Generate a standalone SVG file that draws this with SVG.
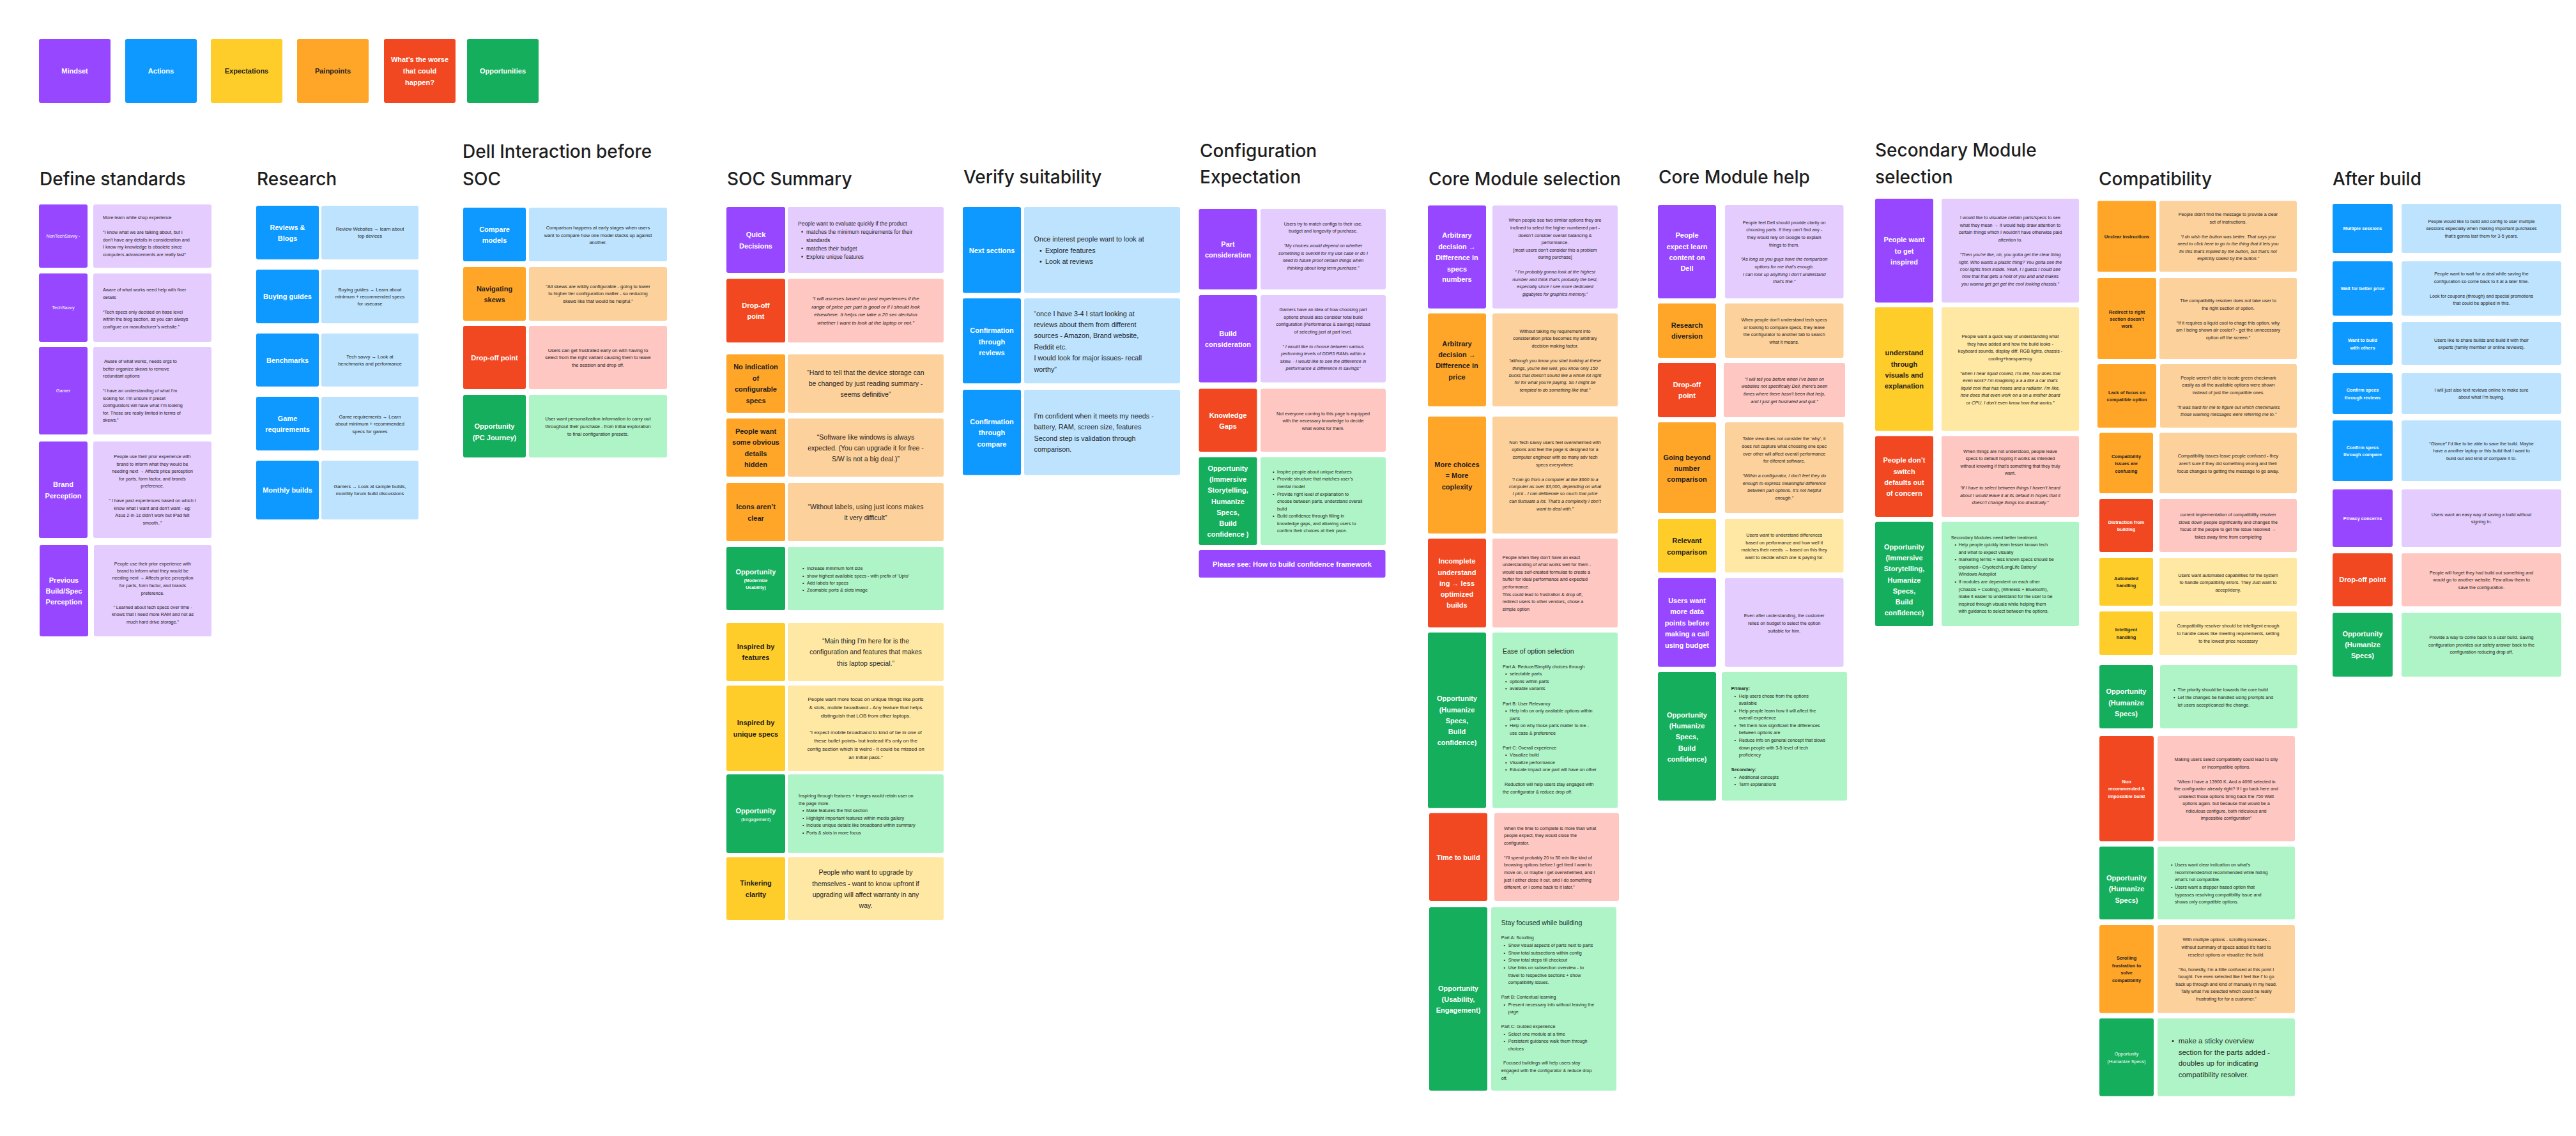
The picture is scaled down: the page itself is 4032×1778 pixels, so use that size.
<svg xmlns="http://www.w3.org/2000/svg" width="4032" height="1778" viewBox="0 0 4032 1778">
<style>
.h{font-family:Inter,"Liberation Sans",sans-serif;font-size:28px;font-weight:500;fill:#1e1e1e}
.L{font-family:"Liberation Sans",Arial,sans-serif;font-weight:700;font-size:11px;text-anchor:middle}
.Ls{font-size:7.3px}
.Rg{font-weight:400}
.W{fill:#fff}.D{fill:#1e1e1e}
.N{font-family:"Liberation Sans",Arial,sans-serif;font-size:7.2px;fill:#1e1e1e}
.N75{font-size:7.5px}.N8{font-size:8px}.N85{font-size:8.5px}.NB{font-size:10.5px}.NL{font-size:10.8px}.NX{font-size:11.5px}
.C{text-anchor:middle}.I{font-style:italic}.B{font-weight:700}
.pu{fill:#9747ff}.bl{fill:#0d99ff}.ye{fill:#ffcd29}.or{fill:#ffa629}.re{fill:#f24822}.gr{fill:#14ae5c}
.lpu{fill:#e4ccff}.lbl{fill:#bde3ff}.lye{fill:#ffe8a3}.lor{fill:#fcd19c}.lre{fill:#ffc7c2}.lgr{fill:#aff4c6}
</style>
<rect width="4032" height="1778" fill="#ffffff"/>

<g id="legend">
<rect class="pu" x="61" y="61" width="112" height="100" rx="3"/><text class="L W" x="117" y="115">Mindset</text>
<rect class="bl" x="196" y="61" width="112" height="100" rx="3"/><text class="L W" x="252" y="115">Actions</text>
<rect class="ye" x="330" y="61" width="112" height="100" rx="3"/><text class="L D" x="386" y="115">Expectations</text>
<rect class="or" x="465" y="61" width="112" height="100" rx="3"/><text class="L D" x="521" y="115">Painpoints</text>
<rect class="re" x="601" y="61" width="112" height="100" rx="3"/><text class="L W"><tspan x="657" y="97">What’s the worse</tspan><tspan x="657" y="115">that could</tspan><tspan x="657" y="133">happen?</tspan></text>
<rect class="gr" x="731" y="61" width="112" height="100" rx="3"/><text class="L W" x="787" y="115">Opportunities</text>
</g>

<g id="connectors"></g>

<g id="define-standards">
<text class="h" x="62" y="290">Define standards</text>
<g id="nontechsavvy">
<rect class="pu" x="61" y="320" width="76" height="99" rx="3"/><text class="L Ls Rg W" x="99" y="372">NonTechSavvy -</text>
<rect class="lpu" x="146" y="320" width="185" height="99" rx="3"/>
<text class="N"><tspan x="161" y="342.5">More learn while shop experience</tspan><tspan x="161" y="365.5">“I know what we are talking about, but I</tspan><tspan x="161" y="377.5">don’t have any details in consideration and</tspan><tspan x="161" y="388.5">I know my knowledge is obsolete since</tspan><tspan x="161" y="400.5">computers advancements are really fast”</tspan></text>
</g>
<g id="techsavvy">
<rect class="pu" x="61" y="428" width="76" height="107" rx="3"/><text class="L Ls Rg W" x="99" y="484">TechSavvy</text>
<rect class="lpu" x="146" y="428" width="185" height="107" rx="3"/>
<text class="N"><tspan x="161" y="455.5">Aware of what works need help with finer</tspan><tspan x="161" y="467.5">details</tspan><tspan x="161" y="490.5">“Tech specs only decided on base level</tspan><tspan x="161" y="501.5">within the blog section, as you can always</tspan><tspan x="161" y="513.5">configure on manufacturer’s website.”</tspan></text>
</g>
<g id="gamer">
<rect class="pu" x="61" y="543" width="76" height="137" rx="3"/><text class="L Ls Rg W" x="99" y="614">Gamer</text>
<rect class="lpu" x="146" y="543" width="185" height="137" rx="3"/>
<text class="N"><tspan x="163" y="567.5">Aware of what works, needs orgs to</tspan><tspan x="161" y="579.5">better organize skews to remove</tspan><tspan x="161" y="590.5">redundant options</tspan><tspan x="161" y="613.5">“I have an understanding of what I’m</tspan><tspan x="161" y="625.5">looking for. I’m unsure if preset</tspan><tspan x="161" y="636.5">configurators will have what I’m looking</tspan><tspan x="161" y="648.5">for. Those are really limited in terms of</tspan><tspan x="161" y="659.5">skews.”</tspan></text>
</g>
<g id="brand-perception">
<rect class="pu" x="61" y="691" width="76" height="151" rx="3"/><text class="L W"><tspan x="99" y="762">Brand</tspan><tspan x="99" y="779.5">Perception</tspan></text>
<rect class="lpu" x="146" y="691" width="185" height="151" rx="3"/>
<text class="N C"><tspan x="238.5" y="717">People use their prior experience with</tspan><tspan x="238.5" y="728.5">brand to inform what they would be</tspan><tspan x="238.5" y="740">needing next → Affects price perception</tspan><tspan x="238.5" y="751.5">for parts, form factor, and brands</tspan><tspan x="238.5" y="763">preference.</tspan><tspan x="238.5" y="786">“ I have past experiences based on which I</tspan><tspan x="238.5" y="797.5">know what I want and don’t want - eg:</tspan><tspan x="238.5" y="809">Asus 2-in-1s didn’t work but iPad felt</tspan><tspan x="238.5" y="820.5">smooth..”</tspan></text>
</g>
<g id="previous-build">
<rect class="pu" x="62" y="853" width="76" height="143" rx="3"/><text class="L W"><tspan x="100" y="912">Previous</tspan><tspan x="100" y="929">Build/Spec</tspan><tspan x="100" y="946">Perception</tspan></text>
<rect class="lpu" x="147" y="853" width="184" height="143" rx="3"/>
<text class="N C"><tspan x="239" y="884.5">People use their prior experience with</tspan><tspan x="239" y="895.5">brand to inform what they would be</tspan><tspan x="239" y="906.5">needing next → Affects price perception</tspan><tspan x="239" y="918.5">for parts, form factor, and brands</tspan><tspan x="239" y="930.5">preference.</tspan><tspan x="239" y="952.5">“ Learned about tech specs over time -</tspan><tspan x="239" y="963.5">knows that I need more RAM and not as</tspan><tspan x="239" y="975.5">much hard drive storage.”</tspan></text>
</g>
</g>

<g id="research">
<text class="h" x="402" y="290">Research</text>
<g id="reviews-blogs">
<rect class="bl" x="401" y="322" width="98" height="84" rx="3"/><text class="L W"><tspan x="450" y="359.7">Reviews &amp;</tspan><tspan x="450" y="377">Blogs</tspan></text>
<rect class="lbl" x="503" y="322" width="152" height="84" rx="3"/>
<text class="N N75 C"><tspan x="579" y="360.6">Review Websites → learn about</tspan><tspan x="579" y="372">top devices</tspan></text>
</g>
<g id="buying-guides">
<rect class="bl" x="401" y="422" width="98" height="84" rx="3"/><text class="L W" x="450" y="468">Buying guides</text>
<rect class="lbl" x="503" y="422" width="152" height="84" rx="3"/>
<text class="N N75 C"><tspan x="579" y="455.6">Buying guides → Learn about</tspan><tspan x="579" y="466.6">minimum + recommended specs</tspan><tspan x="579" y="478.3">for usecase</tspan></text>
</g>
<g id="benchmarks">
<rect class="bl" x="401" y="522" width="98" height="83" rx="3"/><text class="L W" x="450" y="567.5">Benchmarks</text>
<rect class="lbl" x="503" y="522" width="152" height="83" rx="3"/>
<text class="N N75 C"><tspan x="579" y="560.6">Tech savvy → Look at</tspan><tspan x="579" y="571.6">benchmarks and performance</tspan></text>
</g>
<g id="game-requirements">
<rect class="bl" x="401" y="621" width="98" height="84" rx="3"/><text class="L W"><tspan x="450" y="659">Game</tspan><tspan x="450" y="676">requirements</tspan></text>
<rect class="lbl" x="503" y="621" width="152" height="84" rx="3"/>
<text class="N N75 C"><tspan x="579" y="654.6">Game requirements → Learn</tspan><tspan x="579" y="666">about minimum + recommended</tspan><tspan x="579" y="677.6">specs for games</tspan></text>
</g>
<g id="monthly-builds">
<rect class="bl" x="401" y="721" width="98" height="92" rx="3"/><text class="L W" x="450" y="771">Monthly builds</text>
<rect class="lbl" x="503" y="721" width="152" height="92" rx="3"/>
<text class="N N75 C"><tspan x="579" y="763.6">Gamers → Look at sample builds,</tspan><tspan x="579" y="775">monthly forum build discussions</tspan></text>
</g>
</g>

<g id="dell-interaction">
<text class="h"><tspan x="724" y="247">Dell Interaction before</tspan><tspan x="724" y="290">SOC</tspan></text>
<g id="compare-models">
<rect class="bl" x="725" y="325" width="98" height="84" rx="3"/><text class="L W"><tspan x="774" y="363">Compare</tspan><tspan x="774" y="380">models</tspan></text>
<rect class="lbl" x="828" y="325" width="216" height="84" rx="3"/>
<text class="N N75 C"><tspan x="936" y="358.6">Comparison happens at early stages when users</tspan><tspan x="936" y="370.6">want to compare how one model stacks up against</tspan><tspan x="936" y="381.6">another.</tspan></text>
</g>
<g id="navigating-skews">
<rect class="or" x="725" y="418" width="98" height="84" rx="3"/><text class="L D"><tspan x="774" y="455.6">Navigating</tspan><tspan x="774" y="473">skews</tspan></text>
<rect class="lor" x="828" y="418" width="216" height="84" rx="3"/>
<text class="N N75 C"><tspan x="936" y="450.6">“All skews are wildly configurable - going to lower</tspan><tspan x="936" y="462.2">to higher tier configuration matter - so reducing</tspan><tspan x="936" y="473.6">skews like that would be helpful.”</tspan></text>
</g>
<g id="dell-drop-off">
<rect class="re" x="725" y="510" width="98" height="99" rx="3"/><text class="L W" x="774" y="564">Drop-off point</text>
<rect class="lre" x="828" y="510" width="216" height="99" rx="3"/>
<text class="N N75 C"><tspan x="936" y="550.6">Users can get frustrated early on with having to</tspan><tspan x="936" y="562">select from the right variant causing them to leave</tspan><tspan x="936" y="573.6">the session and drop off.</tspan></text>
</g>
<g id="dell-opportunity">
<rect class="gr" x="725" y="618" width="98" height="98" rx="3"/><text class="L W"><tspan x="774" y="671.4">Opportunity</tspan><tspan x="774" y="688.7">(PC Journey)</tspan></text>
<rect class="lgr" x="828" y="618" width="216" height="98" rx="3"/>
<text class="N N75 C"><tspan x="936" y="658">User want personalization information to carry out</tspan><tspan x="936" y="669.6">throughout their purchase - from initial exploration</tspan><tspan x="936" y="681.6">to final configuration presets.</tspan></text>
</g>
</g>

<g id="soc-summary">
<text class="h" x="1138" y="290">SOC Summary</text>
<g id="quick-decisions">
<rect class="pu" x="1137" y="324" width="92" height="103" rx="3"/><text class="L W"><tspan x="1183" y="371">Quick</tspan><tspan x="1183" y="388.6">Decisions</tspan></text>
<rect class="lpu" x="1233" y="324" width="244" height="103" rx="3"/>
<text class="N N85"><tspan x="1249" y="353">People want to evaluate quickly if the product</tspan><tspan x="1254" y="366">•</tspan><tspan x="1262">matches the minimum requirements for their</tspan><tspan x="1262" y="379">standards</tspan><tspan x="1254" y="392">•</tspan><tspan x="1262">matches their budget</tspan><tspan x="1254" y="404.6">•</tspan><tspan x="1262">Explore unique features</tspan></text>
</g>
<g id="soc-drop-off">
<rect class="re" x="1137" y="436.5" width="92" height="99.5" rx="3"/><text class="L W"><tspan x="1183" y="482">Drop-off</tspan><tspan x="1183" y="499">point</tspan></text>
<rect class="lre" x="1233" y="436.5" width="244" height="99.5" rx="3"/>
<text class="N N8 C I"><tspan x="1355" y="469.8">“I will asceses based on past experiences if the</tspan><tspan x="1355" y="482.8">range of price per part is good or if I should look</tspan><tspan x="1355" y="495.3">elsewhere. It helps me take a 20 sec decision</tspan><tspan x="1355" y="507.8">whether I want to look at the laptop or not.”</tspan></text>
</g>
<g id="no-indication">
<rect class="or" x="1137" y="554.5" width="92" height="91.5" rx="3"/><text class="L D"><tspan x="1183" y="578">No indication</tspan><tspan x="1183" y="595.7">of</tspan><tspan x="1183" y="613">configurable</tspan><tspan x="1183" y="630.6">specs</tspan></text>
<rect class="lor" x="1233" y="554.5" width="244" height="91.5" rx="3"/>
<text class="N NB C"><tspan x="1355" y="586.7">“Hard to tell that the device storage can</tspan><tspan x="1355" y="603.7">be changed by just reading summary -</tspan><tspan x="1355" y="620.7">seems definitive”</tspan></text>
</g>
<g id="obvious-details">
<rect class="or" x="1137" y="655" width="92" height="91" rx="3"/><text class="L D"><tspan x="1183" y="679">People want</tspan><tspan x="1183" y="696">some obvious</tspan><tspan x="1183" y="713.7">details</tspan><tspan x="1183" y="731">hidden</tspan></text>
<rect class="lor" x="1233" y="655" width="244" height="91" rx="3"/>
<text class="N NB C"><tspan x="1355" y="687.7">“Software like windows is always</tspan><tspan x="1355" y="704.7">expected. (You can upgrade it for free -</tspan><tspan x="1355" y="721.7">S/W is not a big deal.)”</tspan></text>
</g>
<g id="icons-unclear">
<rect class="or" x="1137" y="756" width="92" height="91" rx="3"/><text class="L D"><tspan x="1183" y="797">Icons aren’t</tspan><tspan x="1183" y="814.7">clear</tspan></text>
<rect class="lor" x="1233" y="756" width="244" height="91" rx="3"/>
<text class="N NB C"><tspan x="1355" y="796.7">“Without labels, using just icons makes</tspan><tspan x="1355" y="813.7">it very difficult”</tspan></text>
</g>
<g id="soc-opportunity-usability">
<rect class="gr" x="1137" y="856" width="92" height="99" rx="3"/><text class="L W"><tspan x="1183" y="899">Opportunity</tspan><tspan x="1183" y="910.5" font-size="7px">(Modernize</tspan><tspan x="1183" y="922" font-size="7px">Usability)</tspan></text>
<rect class="lgr" x="1233" y="856" width="244" height="99" rx="3"/>
<text class="N"><tspan x="1256" y="891.5">•</tspan><tspan x="1263">Increase minimum font size</tspan><tspan x="1256" y="903.5">•</tspan><tspan x="1263">show highest available specs - with prefix of ‘Upto’</tspan><tspan x="1256" y="914.5">•</tspan><tspan x="1263">Add labels for specs</tspan><tspan x="1256" y="926">•</tspan><tspan x="1263">Zoomable ports &amp; slots image</tspan></text>
</g>
<g id="inspired-features">
<rect class="ye" x="1137" y="975" width="92" height="91" rx="3"/><text class="L D"><tspan x="1183" y="1016">Inspired by</tspan><tspan x="1183" y="1033">features</tspan></text>
<rect class="lye" x="1233" y="975" width="244" height="91" rx="3"/>
<text class="N NB C"><tspan x="1355" y="1006.7">“Main thing I’m here for is the</tspan><tspan x="1355" y="1024.4">configuration and features that makes</tspan><tspan x="1355" y="1041.7">this laptop special.”</tspan></text>
</g>
<g id="inspired-unique">
<rect class="ye" x="1137" y="1073" width="92" height="134" rx="3"/><text class="L D"><tspan x="1183" y="1135">Inspired by</tspan><tspan x="1183" y="1152.6">unique specs</tspan></text>
<rect class="lye" x="1233" y="1073" width="244" height="134" rx="3"/>
<text class="N N8 C"><tspan x="1355" y="1097">People want more focus on unique things like ports</tspan><tspan x="1355" y="1110">&amp; slots, mobile broadband - Any feature that helps</tspan><tspan x="1355" y="1123">distinguish that LOB from other laptops.</tspan><tspan x="1355" y="1149">“I expect mobile broadband to kind of be in one of</tspan><tspan x="1355" y="1162">these bullet points- but instead it’s only on the</tspan><tspan x="1355" y="1175">config section which is weird - it could be missed on</tspan><tspan x="1355" y="1188">an initial pass.”</tspan></text>
</g>
<g id="soc-opportunity-engagement">
<rect class="gr" x="1137" y="1212" width="92" height="123" rx="3"/><text class="L W"><tspan x="1183" y="1273">Opportunity</tspan><tspan x="1183" y="1285" font-size="7.3px" font-weight="400">(Engagement)</tspan></text>
<rect class="lgr" x="1233" y="1212" width="244" height="123" rx="3"/>
<text class="N"><tspan x="1250" y="1247.5">Inspiring through features + images would retain user on</tspan><tspan x="1250" y="1259.5">the page more.</tspan><tspan x="1256" y="1270.5">•</tspan><tspan x="1262">Make features the first section</tspan><tspan x="1256" y="1282.5">•</tspan><tspan x="1262">Highlight important features within media gallery</tspan><tspan x="1256" y="1293.5">•</tspan><tspan x="1262">Include unique details like broadband within summary</tspan><tspan x="1256" y="1305.5">•</tspan><tspan x="1262">Ports &amp; slots in more focus</tspan></text>
</g>
<g id="tinkering-clarity">
<rect class="ye" x="1137" y="1341.6" width="92" height="98.4" rx="3"/><text class="L D"><tspan x="1183" y="1386">Tinkering</tspan><tspan x="1183" y="1403.7">clarity</tspan></text>
<rect class="lye" x="1233" y="1341.6" width="244" height="98.4" rx="3"/>
<text class="N NB C"><tspan x="1355" y="1369">People who want to upgrade by</tspan><tspan x="1355" y="1386.7">themselves - want to know upfront if</tspan><tspan x="1355" y="1403.7">upgrading will affect warranty in any</tspan><tspan x="1355" y="1421">way.</tspan></text>
</g>
</g>

<g id="verify-suitability">
<text class="h" x="1508" y="287">Verify suitability</text>
<g id="next-sections">
<rect class="bl" x="1507" y="324" width="91" height="134.5" rx="3"/><text class="L W" x="1552.5" y="396">Next sections</text>
<rect class="lbl" x="1603" y="324" width="244" height="134.5" rx="3"/>
<text class="N NL"><tspan x="1618.5" y="378.3">Once interest people want to look at</tspan><tspan x="1627" y="396">•</tspan><tspan x="1636">Explore features</tspan><tspan x="1627" y="413">•</tspan><tspan x="1636">Look at reviews</tspan></text>
</g>
<g id="confirmation-reviews">
<rect class="bl" x="1507" y="467" width="91" height="133" rx="3"/><text class="L W"><tspan x="1552.5" y="521">Confirmation</tspan><tspan x="1552.5" y="538.7">through</tspan><tspan x="1552.5" y="556">reviews</tspan></text>
<rect class="lbl" x="1603" y="467" width="244" height="133" rx="3"/>
<text class="N NL"><tspan x="1618.5" y="494.8">“once I have 3-4 I start looking at</tspan><tspan x="1618.5" y="512.3">reviews about them from different</tspan><tspan x="1618.5" y="529.3">sources - Amazon, Brand website,</tspan><tspan x="1618.5" y="546.8">Reddit etc.</tspan><tspan x="1618.5" y="563.8">I would look for major issues- recall</tspan><tspan x="1618.5" y="581.8">worthy”</tspan></text>
</g>
<g id="confirmation-compare">
<rect class="bl" x="1507" y="610" width="91" height="133.6" rx="3"/><text class="L W"><tspan x="1552.5" y="663.6">Confirmation</tspan><tspan x="1552.5" y="681">through</tspan><tspan x="1552.5" y="698.5">compare</tspan></text>
<rect class="lbl" x="1603" y="610" width="244" height="133.6" rx="3"/>
<text class="N NL"><tspan x="1618.5" y="654.8">I’m confident when it meets my needs -</tspan><tspan x="1618.5" y="671.8">battery, RAM, screen size, features</tspan><tspan x="1618.5" y="689.8">Second step is validation through</tspan><tspan x="1618.5" y="706.8">comparison.</tspan></text>
</g>
</g>

<g id="configuration-expectation">
<text class="h"><tspan x="1878" y="246">Configuration</tspan><tspan x="1878" y="287">Expectation</tspan></text>
<g id="part-consideration">
<rect class="pu" x="1876.5" y="327" width="91" height="126" rx="3"/><text class="L W"><tspan x="1922" y="386">Part</tspan><tspan x="1922" y="403">consideration</tspan></text>
<rect class="lpu" x="1973" y="327" width="196" height="126" rx="3"/>
<text class="N C"><tspan x="2071" y="352.6">Users try to match configs to their use,</tspan><tspan x="2071" y="364">budget and longevity of purchase.</tspan><tspan x="2071" y="387" font-style="italic">“My choices would depend on whether</tspan><tspan x="2071" y="398.5" font-style="italic">something is overkill for my use case or do I</tspan><tspan x="2071" y="410" font-style="italic">need to future proof certain things when</tspan><tspan x="2071" y="421.5" font-style="italic">thinking about long term purchase.”</tspan></text>
</g>
<g id="build-consideration">
<rect class="pu" x="1876.5" y="462" width="91" height="136.5" rx="3"/><text class="L W"><tspan x="1922" y="526">Build</tspan><tspan x="1922" y="543">consideration</tspan></text>
<rect class="lpu" x="1973" y="462" width="196" height="136.5" rx="3"/>
<text class="N C"><tspan x="2071" y="487">Gamers have an idea of how choosing part</tspan><tspan x="2071" y="498.5">options should also consider total build</tspan><tspan x="2071" y="510">configuration (Performance &amp; savings) instead</tspan><tspan x="2071" y="521.5">of selecting just at part level.</tspan><tspan x="2071" y="544.5" font-style="italic">“ I would like to choose between various</tspan><tspan x="2071" y="556" font-style="italic">performing levels of DDR5 RAMs within a</tspan><tspan x="2071" y="567.5" font-style="italic">skew. - I would like to see the difference in</tspan><tspan x="2071" y="579" font-style="italic">performance &amp; difference in savings”</tspan></text>
</g>
<g id="knowledge-gaps">
<rect class="re" x="1876.5" y="608.6" width="91" height="98.4" rx="3"/><text class="L W"><tspan x="1922" y="654">Knowledge</tspan><tspan x="1922" y="671">Gaps</tspan></text>
<rect class="lre" x="1973" y="608.6" width="196" height="98.4" rx="3"/>
<text class="N C"><tspan x="2071" y="649.5">Not everyone coming to this page is equipped</tspan><tspan x="2071" y="660.5">with the necessary knowledge to decide</tspan><tspan x="2071" y="672.5">what works for them.</tspan></text>
</g>
<g id="config-opportunity">
<rect class="gr" x="1876.5" y="715.6" width="91" height="137.4" rx="3"/><text class="L W"><tspan x="1922" y="736.6">Opportunity</tspan><tspan x="1922" y="753.6">(Immersive</tspan><tspan x="1922" y="771">Storytelling,</tspan><tspan x="1922" y="788.5">Humanize</tspan><tspan x="1922" y="806">Specs,</tspan><tspan x="1922" y="823">Build</tspan><tspan x="1922" y="840">confidence )</tspan></text>
<rect class="lgr" x="1973" y="715.6" width="196" height="137.4" rx="3"/>
<text class="N"><tspan x="1992" y="740.5">•</tspan><tspan x="1999">Inspire people about unique features</tspan><tspan x="1992" y="752">•</tspan><tspan x="1999">Provide structure that matches user’s</tspan><tspan x="1999" y="763.5">mental model</tspan><tspan x="1992" y="775.5">•</tspan><tspan x="1999">Provide right level of explanation to</tspan><tspan x="1999" y="787">choose between parts, understand overall</tspan><tspan x="1999" y="798.5">build</tspan><tspan x="1992" y="810">•</tspan><tspan x="1999">Build confidence through filling in</tspan><tspan x="1999" y="821.5">knowledge gaps, and allowing users to</tspan><tspan x="1999" y="832.5">confirm their choices at their pace.</tspan></text>
</g>
<g id="confidence-framework">
<rect class="pu" x="1876.5" y="861" width="292" height="43" rx="3"/><text class="L W" x="2022.5" y="886.5" font-size="10.5px">Please see: How to build confidence framework</text>
</g>
</g>

<g id="core-module-selection">
<text class="h" x="2236" y="290">Core Module selection</text>
<g id="arbitrary-specs">
<rect class="pu" x="2235" y="321.5" width="91" height="161.2" rx="3"/><text class="L W"><tspan x="2280.5" y="372">Arbitrary</tspan><tspan x="2280.5" y="389.7">decision →</tspan><tspan x="2280.5" y="407">Difference in</tspan><tspan x="2280.5" y="424.5">specs</tspan><tspan x="2280.5" y="441.4">numbers</tspan></text>
<rect class="lpu" x="2336" y="321.5" width="196" height="161.2" rx="3"/>
<text class="N C"><tspan x="2434" y="346.5">When people see two similar options they are</tspan><tspan x="2434" y="358.5">inclined to select the higher numbered part -</tspan><tspan x="2434" y="370.5">doesn’t consider overall balancing &amp;</tspan><tspan x="2434" y="381.5">performance.</tspan><tspan x="2434" y="393.5">[most users don’t consider this a problem</tspan><tspan x="2434" y="405">during purchase]</tspan><tspan x="2434" y="427.5" font-style="italic">“ I’m probably gonna look at the highest</tspan><tspan x="2434" y="439.5" font-style="italic">number and think that’s probably the best,</tspan><tspan x="2434" y="450.5" font-style="italic">especially since I see more dedicated</tspan><tspan x="2434" y="462.5" font-style="italic">gigabytes for graphics memory.”</tspan></text>
</g>
<g id="arbitrary-price">
<rect class="or" x="2235" y="490.6" width="91" height="145.4" rx="3"/><text class="L D"><tspan x="2280.5" y="542">Arbitrary</tspan><tspan x="2280.5" y="559">decision →</tspan><tspan x="2280.5" y="576">Difference in</tspan><tspan x="2280.5" y="593.6">price</tspan></text>
<rect class="lor" x="2336" y="490.6" width="196" height="145.4" rx="3"/>
<text class="N C"><tspan x="2434" y="520.5">Without taking my requirement into</tspan><tspan x="2434" y="532">consideration price becomes my arbitrary</tspan><tspan x="2434" y="543.5">decision making factor.</tspan><tspan x="2434" y="566.5" font-style="italic">“although you know you start looking at these</tspan><tspan x="2434" y="578.5" font-style="italic">things, you’re like well, you know only 150</tspan><tspan x="2434" y="589.5" font-style="italic">bucks that doesn’t sound like a whole lot right</tspan><tspan x="2434" y="601" font-style="italic">for for what you’re paying. So I might be</tspan><tspan x="2434" y="612.5" font-style="italic">tempted to do something like that.”</tspan></text>
</g>
<g id="more-choices">
<rect class="or" x="2235" y="652" width="91" height="183" rx="3"/><text class="L D"><tspan x="2280.5" y="731">More choices</tspan><tspan x="2280.5" y="748">= More</tspan><tspan x="2280.5" y="766">coplexity</tspan></text>
<rect class="lor" x="2336" y="652" width="196" height="183" rx="3"/>
<text class="N C"><tspan x="2434" y="694.5">Non Tech savvy users feel overwhelmed with</tspan><tspan x="2434" y="706">options and feel the page is designed for a</tspan><tspan x="2434" y="718">computer engineer with so many adv tech</tspan><tspan x="2434" y="729.5">specs everywhere.</tspan><tspan x="2434" y="752.5" font-style="italic">“I can go from a computer at like $660 to a</tspan><tspan x="2434" y="763.5" font-style="italic">computer as over $3,000, depending on what</tspan><tspan x="2434" y="775" font-style="italic">I pick - I can deliberate so much that price</tspan><tspan x="2434" y="786.5" font-style="italic">can fluctuate a lot. That’s a complexity I don’t</tspan><tspan x="2434" y="798.5" font-style="italic">want to deal with.”</tspan></text>
</g>
<g id="incomplete-understanding">
<rect class="re" x="2235" y="843" width="91" height="139" rx="3"/><text class="L W"><tspan x="2280.5" y="882">Incomplete</tspan><tspan x="2280.5" y="899.6">understand</tspan><tspan x="2280.5" y="916.5">ing → less</tspan><tspan x="2280.5" y="934">optimized</tspan><tspan x="2280.5" y="951">builds</tspan></text>
<rect class="lre" x="2336" y="843" width="196" height="139" rx="3"/>
<text class="N"><tspan x="2351.7" y="874.5">People when they don’t have an exact</tspan><tspan x="2351.7" y="886">understanding of what works well for them -</tspan><tspan x="2351.7" y="897.5">would use self-created formulas to create a</tspan><tspan x="2351.7" y="909">buffer for ideal performance and expected</tspan><tspan x="2351.7" y="921">performance.</tspan><tspan x="2351.7" y="932.5">This could lead to frustration &amp; drop off,</tspan><tspan x="2351.7" y="943.5">redirect users to other vendors, chose a</tspan><tspan x="2351.7" y="955.5">simple option</tspan></text>
</g>
<g id="core-opportunity-humanize">
<rect class="gr" x="2235" y="990" width="91" height="274.7" rx="3"/><text class="L W"><tspan x="2280.5" y="1097">Opportunity</tspan><tspan x="2280.5" y="1114.6">(Humanize</tspan><tspan x="2280.5" y="1132">Specs,</tspan><tspan x="2280.5" y="1149">Build</tspan><tspan x="2280.5" y="1166">confidence)</tspan></text>
<rect class="lgr" x="2336" y="990" width="196" height="274.7" rx="3"/>
<text class="N"><tspan x="2352" y="1022.7" font-size="10.5px">Ease of option selection</tspan><tspan x="2352" y="1045.5">Part A: Reduce/Simplify choices through</tspan><tspan x="2356" y="1057.2">•</tspan><tspan x="2363">selectable parts</tspan><tspan x="2356" y="1068.5">•</tspan><tspan x="2363">options within parts</tspan><tspan x="2356" y="1080">•</tspan><tspan x="2363">available variants</tspan><tspan x="2352" y="1103.5">Part B: User Relevancy</tspan><tspan x="2356" y="1114.5">•</tspan><tspan x="2363">Help info on only available options within</tspan><tspan x="2363" y="1126.5">parts</tspan><tspan x="2356" y="1137.5">•</tspan><tspan x="2363">Help on why those parts matter to me -</tspan><tspan x="2363" y="1149.5">use case &amp; preference</tspan><tspan x="2352" y="1172.5">Part C: Overall experience</tspan><tspan x="2356" y="1183.5">•</tspan><tspan x="2363">Visualize build</tspan><tspan x="2356" y="1195.5">•</tspan><tspan x="2363">Visualize performance</tspan><tspan x="2356" y="1207">•</tspan><tspan x="2363">Educate impact one part will have on other</tspan><tspan x="2355" y="1230">Reduction will help users stay engaged with</tspan><tspan x="2352" y="1241.5">the configurator &amp; reduce drop off.</tspan></text>
</g>
<g id="time-to-build">
<rect class="re" x="2237" y="1272.6" width="91" height="137.4" rx="3"/><text class="L W" x="2282.5" y="1346">Time to build</text>
<rect class="lre" x="2339" y="1272.6" width="195" height="137.4" rx="3"/>
<text class="N"><tspan x="2354" y="1298.5">When the time to complete is more than what</tspan><tspan x="2354" y="1310">people expect, they would close the</tspan><tspan x="2354" y="1321.5">configurator.</tspan><tspan x="2354" y="1344.5">“I’ll spend probably 20 to 30 min like kind of</tspan><tspan x="2354" y="1356">browsing options before I get tired I want to</tspan><tspan x="2354" y="1367.5">move on, or maybe I get overwhelmed, and I</tspan><tspan x="2354" y="1379.5">just I either close it out, and I do something</tspan><tspan x="2354" y="1391">different, or I come back to it later.”</tspan></text>
</g>
<g id="core-opportunity-usability">
<rect class="gr" x="2237" y="1420" width="91" height="287" rx="3"/><text class="L W"><tspan x="2282.5" y="1550.8">Opportunity</tspan><tspan x="2282.5" y="1568">(Usability,</tspan><tspan x="2282.5" y="1585">Engagement)</tspan></text>
<rect class="lgr" x="2334" y="1420" width="196" height="287" rx="3"/>
<text class="N"><tspan x="2349.7" y="1447.7" font-size="10.5px">Stay focused while building</tspan><tspan x="2349.7" y="1470">Part A: Scrolling</tspan><tspan x="2353.5" y="1482.2">•</tspan><tspan x="2360.7">Show visual aspects of parts next to parts</tspan><tspan x="2353.5" y="1493.5">•</tspan><tspan x="2360.7">Show total subsections within config</tspan><tspan x="2353.5" y="1505">•</tspan><tspan x="2360.7">Show total steps till checkout</tspan><tspan x="2353.5" y="1516.5">•</tspan><tspan x="2360.7">Use links on subsection overview - to</tspan><tspan x="2360.7" y="1528.5">travel to respective sections + show</tspan><tspan x="2360.7" y="1540">compatibility issues.</tspan><tspan x="2349.7" y="1562.5">Part B: Contextual learning</tspan><tspan x="2353.5" y="1574.5">•</tspan><tspan x="2360.7">Present necessary info without leaving the</tspan><tspan x="2360.7" y="1586">page</tspan><tspan x="2349.7" y="1608.5">Part C: Guided experience</tspan><tspan x="2353.5" y="1620.5">•</tspan><tspan x="2360.7">Select one module at a time</tspan><tspan x="2353.5" y="1631.5">•</tspan><tspan x="2360.7">Persistent guidance walk them through</tspan><tspan x="2360.7" y="1643.5">choices</tspan><tspan x="2353" y="1666">Focused buildings will help users stay</tspan><tspan x="2349.7" y="1677.5">engaged with the configurator &amp; reduce drop</tspan><tspan x="2349.7" y="1689.5">off.</tspan></text>
</g>
</g>

<g id="core-module-help">
<text class="h" x="2596" y="287">Core Module help</text>
<g id="expect-learn">
<rect class="pu" x="2595" y="321" width="91" height="146" rx="3"/><text class="L W"><tspan x="2640.5" y="372.3">People</tspan><tspan x="2640.5" y="389.7">expect learn</tspan><tspan x="2640.5" y="406.9">content on</tspan><tspan x="2640.5" y="424.3">Dell</tspan></text>
<rect class="lpu" x="2700" y="321" width="185.5" height="146" rx="3"/>
<text class="N C"><tspan x="2792.7" y="350.5">People feel Dell should provide clarity on</tspan><tspan x="2792.7" y="362">choosing parts. If they can’t find any -</tspan><tspan x="2792.7" y="373.8">they would rely on Google to explain</tspan><tspan x="2792.7" y="385.5">things to them.</tspan><tspan x="2792.7" y="408.3" font-style="italic">“As long as you guys have the comparison</tspan><tspan x="2792.7" y="420" font-style="italic">options for me that’s enough.</tspan><tspan x="2792.7" y="431.5" font-style="italic">I can look up anything I don’t understand</tspan><tspan x="2792.7" y="443" font-style="italic">that’s fine.”</tspan></text>
</g>
<g id="research-diversion">
<rect class="or" x="2595" y="475" width="91" height="85" rx="3"/><text class="L D"><tspan x="2640.5" y="513">Research</tspan><tspan x="2640.5" y="530.4">diversion</tspan></text>
<rect class="lor" x="2700" y="475" width="185.5" height="85" rx="3"/>
<text class="N C"><tspan x="2792.7" y="503">When people don’t understand tech specs</tspan><tspan x="2792.7" y="514.5">or looking to compare specs, they leave</tspan><tspan x="2792.7" y="526">the configurator to another tab to search</tspan><tspan x="2792.7" y="537.8">what it means.</tspan></text>
</g>
<g id="help-drop-off">
<rect class="re" x="2595" y="568" width="91" height="85" rx="3"/><text class="L W"><tspan x="2640.5" y="605.7">Drop-off</tspan><tspan x="2640.5" y="623.2">point</tspan></text>
<rect class="lre" x="2698" y="568" width="190" height="85" rx="3"/>
<text class="N C I"><tspan x="2793" y="595.5">“I will tell you before when I’ve been on</tspan><tspan x="2793" y="607.2">websites not specifically Dell, there’s been</tspan><tspan x="2793" y="618.9">times where there hasn’t been that help,</tspan><tspan x="2793" y="630.5">and I just get frustrated and quit.”</tspan></text>
</g>
<g id="beyond-number">
<rect class="or" x="2595" y="661" width="91" height="142" rx="3"/><text class="L D"><tspan x="2640.5" y="719.5">Going beyond</tspan><tspan x="2640.5" y="736.9">number</tspan><tspan x="2640.5" y="754.4">comparison</tspan></text>
<rect class="lor" x="2700" y="661" width="185.5" height="142" rx="3"/>
<text class="N C"><tspan x="2792.7" y="689.1">Table view does not consider the ‘why’, it</tspan><tspan x="2792.7" y="700.5">does not capture what choosing one spec</tspan><tspan x="2792.7" y="712.5">over other will affect overall performance</tspan><tspan x="2792.7" y="723.5">for diferent software.</tspan><tspan x="2792.7" y="746.5" font-style="italic">“Within a configurator, I don’t feel they do</tspan><tspan x="2792.7" y="758.5" font-style="italic">enough to express meaningful difference</tspan><tspan x="2792.7" y="770.1" font-style="italic">between part options. It’s not helpful</tspan><tspan x="2792.7" y="781.5" font-style="italic">enough.”</tspan></text>
</g>
<g id="relevant-comparison">
<rect class="ye" x="2595" y="812" width="91" height="84" rx="3"/><text class="L D"><tspan x="2640.5" y="849.9">Relevant</tspan><tspan x="2640.5" y="867.6">comparison</tspan></text>
<rect class="lye" x="2700" y="812" width="185.5" height="84" rx="3"/>
<text class="N C"><tspan x="2792.7" y="839.5">Users want to understand differences</tspan><tspan x="2792.7" y="851.5">based on performance and how well it</tspan><tspan x="2792.7" y="862.5">matches their needs → based on this they</tspan><tspan x="2792.7" y="874.5">want to decide which one is paying for.</tspan></text>
</g>
<g id="more-data-points">
<rect class="pu" x="2595" y="904.7" width="91" height="139" rx="3"/><text class="L W"><tspan x="2640.5" y="943.9">Users want</tspan><tspan x="2640.5" y="960.9">more data</tspan><tspan x="2640.5" y="978.9">points before</tspan><tspan x="2640.5" y="995.9">making a call</tspan><tspan x="2640.5" y="1013.6">using budget</tspan></text>
<rect class="lpu" x="2700" y="904.7" width="185.5" height="139" rx="3"/>
<text class="N C"><tspan x="2792.7" y="965.5">Even after understanding, the customer</tspan><tspan x="2792.7" y="977.5">relies on budget to select the option</tspan><tspan x="2792.7" y="989.5">suitable for him.</tspan></text>
</g>
<g id="help-opportunity">
<rect class="gr" x="2595" y="1052" width="91" height="201" rx="3"/><text class="L W"><tspan x="2640.5" y="1122.6">Opportunity</tspan><tspan x="2640.5" y="1139.9">(Humanize</tspan><tspan x="2640.5" y="1156.9">Specs,</tspan><tspan x="2640.5" y="1174.6">Build</tspan><tspan x="2640.5" y="1191.9">confidence)</tspan></text>
<rect class="lgr" x="2695" y="1052" width="196" height="201" rx="3"/>
<text class="N"><tspan x="2709.7" y="1080.2" font-weight="700">Primary:</tspan><tspan x="2714.5" y="1091.5">•</tspan><tspan x="2721.7">Help users chose from the options</tspan><tspan x="2721.7" y="1103.2">available</tspan><tspan x="2714.5" y="1114.5">•</tspan><tspan x="2721.7">Help people learn how it will affect the</tspan><tspan x="2721.7" y="1126.2">overall experience</tspan><tspan x="2714.5" y="1137.5">•</tspan><tspan x="2721.7">Tell them how significant the differences</tspan><tspan x="2721.7" y="1149.2">between options are</tspan><tspan x="2714.5" y="1160.5">•</tspan><tspan x="2721.7">Reduce info on general concept that slows</tspan><tspan x="2721.7" y="1172.5">down people with 3-5 level of tech</tspan><tspan x="2721.7" y="1183.5">proficiency</tspan><tspan x="2709.7" y="1206.5" font-weight="700">Secondary:</tspan><tspan x="2714.5" y="1218.5">•</tspan><tspan x="2721.7">Additional concepts</tspan><tspan x="2714.5" y="1229.5">•</tspan><tspan x="2721.7">Term explanations</tspan></text>
</g>
</g>

<g id="secondary-module-selection">
<text class="h"><tspan x="2935" y="245">Secondary Module</tspan><tspan x="2935" y="287">selection</tspan></text>
<g id="get-inspired">
<rect class="pu" x="2935" y="311" width="91" height="162.5" rx="3"/><text class="L W"><tspan x="2980.5" y="378.9">People want</tspan><tspan x="2980.5" y="396.9">to get</tspan><tspan x="2980.5" y="413.9">inspired</tspan></text>
<rect class="lpu" x="3039" y="311" width="215" height="162.5" rx="3"/>
<text class="N C"><tspan x="3146.5" y="342.5">I would like to visualize certain parts/specs to see</tspan><tspan x="3146.5" y="354.5">what they mean → It would help draw attention to</tspan><tspan x="3146.5" y="366.1">certain things which I wouldn’t have otherwise paid</tspan><tspan x="3146.5" y="377.5">attention to.</tspan><tspan x="3146.5" y="400.5" font-style="italic">“Then you’re like, oh, you gotta get the clear thing</tspan><tspan x="3146.5" y="412.5" font-style="italic">right. Who wants a plastic thing? You gotta see the</tspan><tspan x="3146.5" y="423.5" font-style="italic">cool lights from inside. Yeah, I I guess I could see</tspan><tspan x="3146.5" y="435.2" font-style="italic">how that that gets a hold of you and and makes</tspan><tspan x="3146.5" y="446.9" font-style="italic">you wanna get get get the cool looking chassis.”</tspan></text>
</g>
<g id="understand-visuals">
<rect class="ye" x="2935" y="481" width="91" height="193.5" rx="3"/><text class="L D"><tspan x="2980.5" y="555.9">understand</tspan><tspan x="2980.5" y="573.9">through</tspan><tspan x="2980.5" y="590.9">visuals and</tspan><tspan x="2980.5" y="608.3">explanation</tspan></text>
<rect class="lye" x="3039" y="481" width="215" height="193.5" rx="3"/>
<text class="N C"><tspan x="3146.5" y="529">People want a quick way of understanding what</tspan><tspan x="3146.5" y="540.5">they have added and how the build looks -</tspan><tspan x="3146.5" y="552">keyboard sounds, display diff, RGB lights, chassis -</tspan><tspan x="3146.5" y="563.5">cooling+transparency</tspan><tspan x="3146.5" y="586.5" font-style="italic">“when I hear liquid cooled, I’m like, how does that</tspan><tspan x="3146.5" y="598.1" font-style="italic">even work? I’m imagining a a a like a car that’s</tspan><tspan x="3146.5" y="609.5" font-style="italic">liquid cool that has hoses and a radiator. I’m like,</tspan><tspan x="3146.5" y="621" font-style="italic">how does that even work on a on a mother board</tspan><tspan x="3146.5" y="632.5" font-style="italic">or CPU. I don’t even know how that works.”</tspan></text>
</g>
<g id="defaults-concern">
<rect class="re" x="2935" y="682.5" width="91" height="126.5" rx="3"/><text class="L W"><tspan x="2980.5" y="723.9">People don’t</tspan><tspan x="2980.5" y="741.9">switch</tspan><tspan x="2980.5" y="758.9">defaults out</tspan><tspan x="2980.5" y="775.9">of concern</tspan></text>
<rect class="lre" x="3039" y="682.5" width="215" height="126.5" rx="3"/>
<text class="N C"><tspan x="3146.5" y="708.5">When things are not understood, people leave</tspan><tspan x="3146.5" y="720">specs to default hoping it works as intended</tspan><tspan x="3146.5" y="731.5">without knowing if that’s something that they truly</tspan><tspan x="3146.5" y="743.2">want.</tspan><tspan x="3146.5" y="766.1" font-style="italic">“If I have to select between things I haven’t heard</tspan><tspan x="3146.5" y="777.5" font-style="italic">about I would leave it at its default in hopes that it</tspan><tspan x="3146.5" y="789" font-style="italic">doesn’t change things too drastically.”</tspan></text>
</g>
<g id="secondary-opportunity">
<rect class="gr" x="2935" y="816.7" width="91" height="163.3" rx="3"/><text class="L W"><tspan x="2980.5" y="859.9">Opportunity</tspan><tspan x="2980.5" y="876.9">(Immersive</tspan><tspan x="2980.5" y="893.9">Storytelling,</tspan><tspan x="2980.5" y="911.6">Humanize</tspan><tspan x="2980.5" y="928.9">Specs,</tspan><tspan x="2980.5" y="945.9">Build</tspan><tspan x="2980.5" y="962.9">confidence)</tspan></text>
<rect class="lgr" x="3039" y="816.7" width="215" height="163.3" rx="3"/>
<text class="N"><tspan x="3053.7" y="843.5">Secondary Modules need better treatment.</tspan><tspan x="3059.6" y="855.2">•</tspan><tspan x="3065.5">Help people quickly learn lesser known tech</tspan><tspan x="3065.5" y="866.5">and what to expect visually</tspan><tspan x="3059.6" y="878.2">•</tspan><tspan x="3065.5">marketing terms + less known specs should be</tspan><tspan x="3065.5" y="889.5">explained - Cryotech/LongLife Battery/</tspan><tspan x="3065.5" y="901.2">Windows Autopilot</tspan><tspan x="3059.6" y="912.5">•</tspan><tspan x="3065.5">If modules are dependent on each other</tspan><tspan x="3065.5" y="924.5">(Chassis + Cooling), (Wireless + Bluetooth),</tspan><tspan x="3065.5" y="935.5">make it easier to understand for the user to be</tspan><tspan x="3065.5" y="947.5">inspired through visuals while helping them</tspan><tspan x="3065.5" y="958.5">with guidance to select between the options.</tspan></text>
</g>
</g>

<g id="compatibility">
<text class="h" x="3285" y="289.5">Compatibility</text>
<g id="unclear-instructions">
<rect class="or" x="3283" y="314.6" width="92" height="111" rx="3"/><text class="L Ls D" x="3329" y="372.6">Unclear instructions</text>
<rect class="lor" x="3380" y="314.6" width="215" height="111" rx="3"/>
<text class="N C"><tspan x="3487.5" y="337.5">People didn’t find the message to provide a clear</tspan><tspan x="3487.5" y="349.5">set of instructions.</tspan><tspan x="3487.5" y="372.5" font-style="italic">“I do wish the button was better. That says you</tspan><tspan x="3487.5" y="384.1" font-style="italic">need to click here to go to the thing that it lets you</tspan><tspan x="3487.5" y="395.5" font-style="italic">fix this that’s implied by the button, but that’s not</tspan><tspan x="3487.5" y="407.2" font-style="italic">explicitly stated by the button.”</tspan></text>
</g>
<g id="redirect-section">
<rect class="or" x="3283" y="435" width="92" height="127" rx="3"/><text class="L Ls D"><tspan x="3329" y="490.6">Redirect to right</tspan><tspan x="3329" y="501.6">section doesn’t</tspan><tspan x="3329" y="512.6">work</tspan></text>
<rect class="lor" x="3380" y="435" width="215" height="127" rx="3"/>
<text class="N C"><tspan x="3487.5" y="472.5">The compatibility resolver does not take user to</tspan><tspan x="3487.5" y="484.5">the right section of option.</tspan><tspan x="3487.5" y="507.5">“If it requires a liquid cool to chage this option, why</tspan><tspan x="3487.5" y="519">am I being shown air cooler? - get the unnecessary</tspan><tspan x="3487.5" y="530.5">option off the screen.”</tspan></text>
</g>
<g id="lack-focus">
<rect class="or" x="3283" y="570" width="92" height="99.5" rx="3"/><text class="L Ls D"><tspan x="3329" y="616.6">Lack of focus on</tspan><tspan x="3329" y="628.2">compatible option</tspan></text>
<rect class="lor" x="3381" y="570" width="214" height="99.5" rx="3"/>
<text class="N C"><tspan x="3488" y="593.5">People weren’t able to locate green checkmark</tspan><tspan x="3488" y="604.9">easily as all the available options were shown</tspan><tspan x="3488" y="616.5">instead of just the compatible ones.</tspan><tspan x="3488" y="639.5" font-style="italic">“It was hard for me to figure out which checkmarks</tspan><tspan x="3488" y="651.2" font-style="italic">those warning messages were referring me to.”</tspan></text>
</g>
<g id="issues-confusing">
<rect class="or" x="3286" y="677.5" width="84" height="94.5" rx="3"/><text class="L Ls D"><tspan x="3328" y="716.6">Compatibility</tspan><tspan x="3328" y="727.6">issues are</tspan><tspan x="3328" y="739.6">confusing</tspan></text>
<rect class="lor" x="3380" y="677.5" width="215" height="94.5" rx="3"/>
<text class="N C"><tspan x="3487.5" y="715.5">Compatibility issues leave people confused - they</tspan><tspan x="3487.5" y="727.5">aren’t sure if they did something wrong and their</tspan><tspan x="3487.5" y="739.5">focus changes to getting the message to go away.</tspan></text>
</g>
<g id="distraction-building">
<rect class="re" x="3286" y="781" width="84" height="83" rx="3"/><text class="L Ls W"><tspan x="3328" y="819.6">Distraction from</tspan><tspan x="3328" y="831.1">building</tspan></text>
<rect class="lre" x="3380" y="781" width="215" height="83" rx="3"/>
<text class="N C"><tspan x="3487.5" y="807.5">current implementation of compatibility resolver</tspan><tspan x="3487.5" y="819.5">slows down people significantly and changes the</tspan><tspan x="3487.5" y="831">focus of the people to get the issue resolved →</tspan><tspan x="3487.5" y="842.5">takes away time from completing</tspan></text>
</g>
<g id="automated-handling">
<rect class="ye" x="3286" y="873" width="84" height="75" rx="3"/><text class="L Ls D"><tspan x="3328" y="908">Automated</tspan><tspan x="3328" y="919.3">handling</tspan></text>
<rect class="lye" x="3380" y="873" width="215" height="75" rx="3"/>
<text class="N C"><tspan x="3487.5" y="902.5">Users want automated capabilities for the system</tspan><tspan x="3487.5" y="913.5">to handle compatibility errors. They Just want to</tspan><tspan x="3487.5" y="925.5">accept/deny.</tspan></text>
</g>
<g id="intelligent-handling">
<rect class="ye" x="3286" y="957" width="84" height="68" rx="3"/><text class="L Ls D"><tspan x="3328" y="988.1">Intelligent</tspan><tspan x="3328" y="999.6">handling</tspan></text>
<rect class="lye" x="3380" y="957" width="215" height="68" rx="3"/>
<text class="N C"><tspan x="3487.5" y="982.2">Compatibility resolver should be intelligent enough</tspan><tspan x="3487.5" y="993.5">to handle cases like meeting requirements, setting</tspan><tspan x="3487.5" y="1005.5">to the lowest price necessary</tspan></text>
</g>
<g id="compat-opportunity-1">
<rect class="gr" x="3286" y="1041" width="84" height="99" rx="3"/><text class="L W"><tspan x="3328" y="1086.4">Opportunity</tspan><tspan x="3328" y="1103.9">(Humanize</tspan><tspan x="3328" y="1120.9">Specs)</tspan></text>
<rect class="lgr" x="3381" y="1041" width="215" height="99" rx="3"/>
<text class="N"><tspan x="3402" y="1082">•</tspan><tspan x="3408.5">The priority should be towards the core build</tspan><tspan x="3402" y="1093.5">•</tspan><tspan x="3408.5">Let the changes be handled using prompts and</tspan><tspan x="3408.5" y="1105.5">let users accept/cancel the change.</tspan></text>
</g>
<g id="non-recommended">
<rect class="re" x="3286" y="1152" width="85" height="164.6" rx="3"/><text class="L Ls W"><tspan x="3328.5" y="1225.6">Non</tspan><tspan x="3328.5" y="1237.3">recommended &amp;</tspan><tspan x="3328.5" y="1248.6">impossible build</tspan></text>
<rect class="lre" x="3377" y="1152" width="215" height="164.6" rx="3"/>
<text class="N C"><tspan x="3484.5" y="1191.1">Making users select compatibility could lead to silly</tspan><tspan x="3484.5" y="1202.5">or incompatible options.</tspan><tspan x="3484.5" y="1225.5">“When I have a 13900 K. And a 4090 selected in</tspan><tspan x="3484.5" y="1237.2">the configurator already right? If I go back here and</tspan><tspan x="3484.5" y="1248.5">unselect those options bring back the 750 Watt</tspan><tspan x="3484.5" y="1260">options again. but because that would be a</tspan><tspan x="3484.5" y="1271.5">ridiculous configure, both ridiculous and</tspan><tspan x="3484.5" y="1283.2">impossible configuration”</tspan></text>
</g>
<g id="compat-opportunity-2">
<rect class="gr" x="3286" y="1325" width="85" height="114" rx="3"/><text class="L W"><tspan x="3328.5" y="1377.9">Opportunity</tspan><tspan x="3328.5" y="1394.9">(Humanize</tspan><tspan x="3328.5" y="1412.6">Specs)</tspan></text>
<rect class="lgr" x="3377" y="1325" width="215" height="114" rx="3"/>
<text class="N"><tspan x="3398" y="1355.9">•</tspan><tspan x="3404">Users want clear indication on what’s</tspan><tspan x="3404" y="1367.5">recommended/not recommended while hiding</tspan><tspan x="3404" y="1379.2">what’s not compatible.</tspan><tspan x="3398" y="1390.5">•</tspan><tspan x="3404">Users want a stepper based option that</tspan><tspan x="3404" y="1402.5">bypasses resolving compatibility issue and</tspan><tspan x="3404" y="1414.1">shows only compatible options.</tspan></text>
</g>
<g id="scrolling-frustration">
<rect class="or" x="3286" y="1448" width="85" height="137.6" rx="3"/><text class="L Ls D"><tspan x="3328.5" y="1501.6">Scrolling</tspan><tspan x="3328.5" y="1513.6">frustration to</tspan><tspan x="3328.5" y="1525.2">solve</tspan><tspan x="3328.5" y="1536.6">compatibility</tspan></text>
<rect class="lor" x="3377" y="1448" width="215" height="137.6" rx="3"/>
<text class="N C"><tspan x="3484.5" y="1473.2">With multiple options - scrolling increases -</tspan><tspan x="3484.5" y="1484.5">without summary of specs added it’s hard to</tspan><tspan x="3484.5" y="1496.5">reselect options or visualize the build.</tspan><tspan x="3484.5" y="1519.5">“So, honestly, i’m a little confused at this point I</tspan><tspan x="3484.5" y="1530.9">bought. I’ve even selected like I feel like I’ to go</tspan><tspan x="3484.5" y="1542.5">back up through and kind of manually in my head.</tspan><tspan x="3484.5" y="1554.2">Tally what I’ve selected which could be really</tspan><tspan x="3484.5" y="1565.5">frustrating for for a customer.”</tspan></text>
</g>
<g id="compat-opportunity-3">
<rect class="gr" x="3286" y="1594" width="85" height="121.5" rx="3"/><text class="L Ls Rg W"><tspan x="3328.5" y="1652.2">Opportunity</tspan><tspan x="3328.5" y="1663.6">(Humanize Specs)</tspan></text>
<rect class="lgr" x="3377" y="1594" width="215" height="121.5" rx="3"/>
<text class="N NX"><tspan x="3399" y="1633">•</tspan><tspan x="3409.7">make a sticky overview</tspan><tspan x="3409.7" y="1650.7">section for the parts added -</tspan><tspan x="3409.7" y="1668">doubles up for indicating</tspan><tspan x="3409.7" y="1685.6">compatibility resolver.</tspan></text>
</g>
</g>

<g id="after-build">
<text class="h" x="3651" y="290">After build</text>
<g id="multiple-sessions">
<rect class="bl" x="3651" y="319" width="94" height="77" rx="3"/><text class="L Ls W" x="3698" y="360">Multiple sessions</text>
<rect class="lbl" x="3759" y="319" width="250" height="77" rx="3"/>
<text class="N C"><tspan x="3884" y="348.5">People would like to build and config to user multiple</tspan><tspan x="3884" y="360">sessions especially when making important purchases</tspan><tspan x="3884" y="371.5">that’s gonna last them for 3-5 years.</tspan></text>
</g>
<g id="wait-better-price">
<rect class="bl" x="3651" y="409" width="94" height="85" rx="3"/><text class="L Ls W" x="3698" y="454">Wait for better price</text>
<rect class="lbl" x="3759" y="409" width="250" height="85" rx="3"/>
<text class="N C"><tspan x="3884" y="431">People want to wait for a deal while saving the</tspan><tspan x="3884" y="442.5">configuration so come back to it at a later time.</tspan><tspan x="3884" y="465.5">Look for coupons (through) and special promotions</tspan><tspan x="3884" y="477">that could be applied in this.</tspan></text>
</g>
<g id="build-with-others">
<rect class="bl" x="3651" y="504" width="94" height="67" rx="3"/><text class="L Ls W"><tspan x="3698" y="535">Want to build</tspan><tspan x="3698" y="546.5">with others</tspan></text>
<rect class="lbl" x="3759" y="504" width="250" height="67" rx="3"/>
<text class="N C"><tspan x="3884" y="534.5">Users like to share builds and build it with their</tspan><tspan x="3884" y="546">experts (family member or online reviews).</tspan></text>
</g>
<g id="specs-reviews">
<rect class="bl" x="3651" y="584" width="94" height="64" rx="3"/><text class="L Ls W"><tspan x="3698" y="613">Confirm specs</tspan><tspan x="3698" y="624.5">through reviews</tspan></text>
<rect class="lbl" x="3759" y="584" width="250" height="64" rx="3"/>
<text class="N C"><tspan x="3884" y="612.8">I will just also text reviews online to make sure</tspan><tspan x="3884" y="624.2">about what I’m buying.</tspan></text>
</g>
<g id="specs-compare">
<rect class="bl" x="3651" y="658" width="94" height="95" rx="3"/><text class="L Ls W"><tspan x="3698" y="702.5">Confirm specs</tspan><tspan x="3698" y="714">through compare</tspan></text>
<rect class="lbl" x="3759" y="658" width="250" height="95" rx="3"/>
<text class="N C"><tspan x="3884" y="696.5">“Glance” I’d like to be able to save the build. Maybe</tspan><tspan x="3884" y="708">have a another laptop or this build that I want to</tspan><tspan x="3884" y="719.5">build out and kind of compare it to.</tspan></text>
</g>
<g id="privacy-concerns">
<rect class="pu" x="3651" y="766" width="94" height="90" rx="3"/><text class="L Ls W" x="3698" y="813.6">Privacy concerns</text>
<rect class="lpu" x="3759" y="766" width="250" height="90" rx="3"/>
<text class="N C"><tspan x="3884" y="807.8">Users want an easy way of saving a build without</tspan><tspan x="3884" y="819.2">signing in.</tspan></text>
</g>
<g id="after-drop-off">
<rect class="re" x="3651" y="866" width="94" height="83" rx="3"/><text class="L W" x="3698" y="911.4">Drop-off point</text>
<rect class="lre" x="3759" y="866" width="250" height="83" rx="3"/>
<text class="N C"><tspan x="3884" y="898.5">People will forget they had build out something and</tspan><tspan x="3884" y="910">would go to another website. Few allow them to</tspan><tspan x="3884" y="921.5">save the configuration.</tspan></text>
</g>
<g id="after-opportunity">
<rect class="gr" x="3651" y="959" width="94" height="100" rx="3"/><text class="L W"><tspan x="3698" y="995.9">Opportunity</tspan><tspan x="3698" y="1012.9">(Humanize</tspan><tspan x="3698" y="1029.9">Specs)</tspan></text>
<rect class="lgr" x="3759" y="959" width="250" height="100" rx="3"/>
<text class="N C"><tspan x="3884" y="1000">Provide a way to come back to a user build. Saving</tspan><tspan x="3884" y="1011.5">configuration provides our safety answer back to the</tspan><tspan x="3884" y="1023">configuration reducing drop off.</tspan></text>
</g>
</g>
</svg>
